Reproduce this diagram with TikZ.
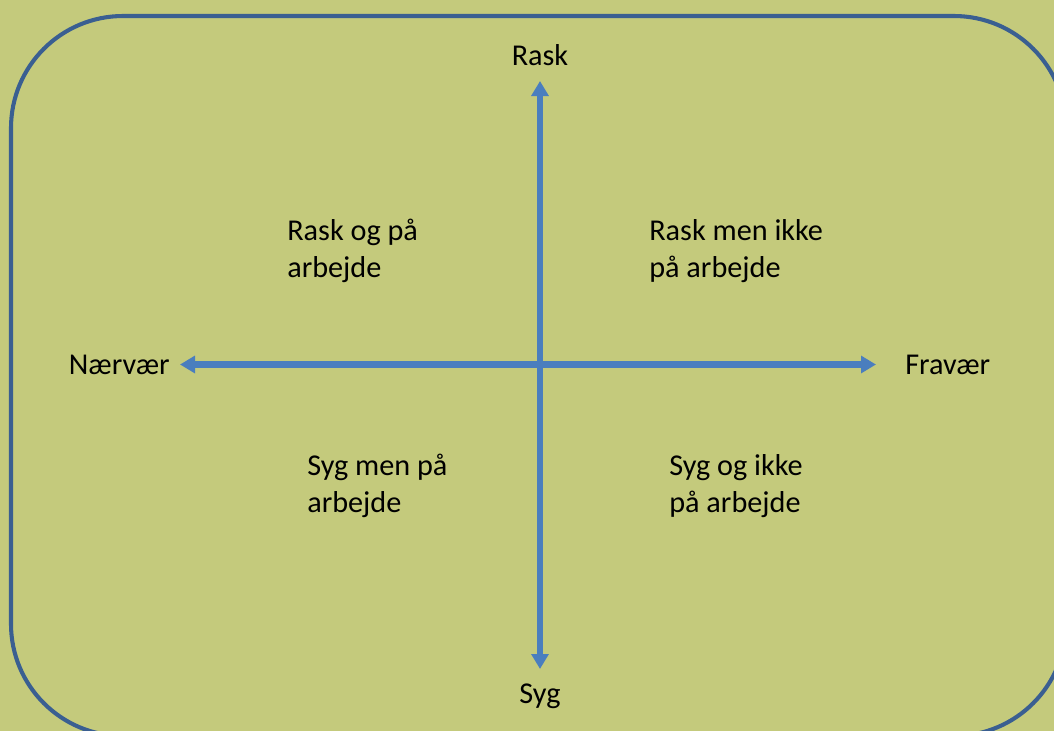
\documentclass[tikz,border=0pt]{standalone}
\usepackage{fontspec}
\setmainfont{Carlito}
\usetikzlibrary{arrows.meta}

\definecolor{felt}{RGB}{196,202,124}
\definecolor{ramme}{RGB}{58,95,145}
\definecolor{akse}{RGB}{74,126,190}

\begin{document}
\begin{tikzpicture}[x=0.025cm,y=-0.025cm,
  tekst/.style={font=\fontsize{21.5}{26.3}\selectfont,inner sep=0pt},
  felttekst/.style={tekst,align=left,anchor=base west},
  akselinje/.style={draw=akse,line width=4.3pt,
    {Triangle[length=0.375cm,width=0.42cm]}-{Triangle[length=0.375cm,width=0.42cm]}}]
  \useasboundingbox (0,0) rectangle (1054,731);
  \fill[felt] (0,0) rectangle (1054,731);
  \begin{scope}
    \clip (0,0) rectangle (1054,731);
    \draw[ramme,line width=2.9pt,rounded corners=2.8cm] (11,16) rectangle (1066,736);
  \end{scope}
  % akser
  \coordinate (top) at (540,81);
  \coordinate (bund) at (540,669);
  \coordinate (venstre) at (180,364.5);
  \coordinate (hoejre) at (876,364.5);
  \draw[akselinje] (bund) -- (top);
  \draw[akselinje] (venstre) -- (hoejre);
  \node[tekst,anchor=base] (rask) at (540,65) {Rask};
  \node[tekst,anchor=base] (syg) at (540,703) {Syg};
  \node[tekst,anchor=base east] (naervaer) at (170,374) {Nærvær};
  \node[tekst,anchor=base west] (fravaer) at (905,374) {Fravær};
  % felter
  \node[felttekst] (q1) at (287,277) {Rask og på\\arbejde};
  \node[felttekst] (q2) at (649,277) {Rask men ikke\\på arbejde};
  \node[felttekst] (q3) at (307,512) {Syg men på\\arbejde};
  \node[felttekst] (q4) at (669,512) {Syg og ikke\\på arbejde};
\end{tikzpicture}
\end{document}
